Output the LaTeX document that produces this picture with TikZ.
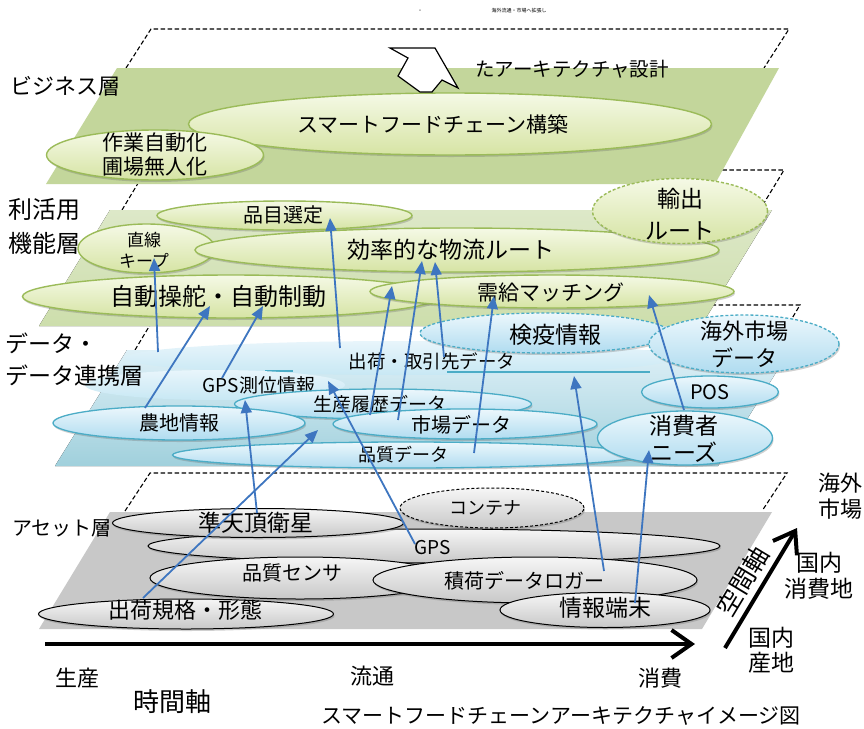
\documentclass[tikz,border=0pt]{standalone}
\usepackage{fontspec}
\setmainfont{Noto Sans CJK JP}
\usetikzlibrary{arrows.meta,shapes.geometric,shadows}
\definecolor{bizgreen}{RGB}{195,214,155}
\definecolor{bizline}{RGB}{155,187,89}
\definecolor{biztop}{RGB}{245,249,230}
\definecolor{bizbot}{RGB}{214,228,164}
\definecolor{usetop}{RGB}{221,232,200}
\definecolor{usebot}{RGB}{205,222,172}
\definecolor{datatop}{RGB}{222,240,247}
\definecolor{databot}{RGB}{160,208,220}
\definecolor{dline}{RGB}{75,172,198}
\definecolor{deltop}{RGB}{236,247,252}
\definecolor{delbot}{RGB}{176,220,240}
\definecolor{faintA}{RGB}{232,245,251}
\definecolor{faintB}{RGB}{200,232,244}
\definecolor{assetgray}{RGB}{200,200,200}
\definecolor{astop}{RGB}{246,246,246}
\definecolor{asbot}{RGB}{200,200,200}
\definecolor{arrowblue}{RGB}{62,118,192}
\newcommand{\myfs}[1]{\fontsize{#1}{#1}\selectfont}
\begin{document}
\begin{tikzpicture}[x=1pt,y=-1pt,
  dashedge/.style={black, line width=1.1pt, dash pattern=on 4.5pt off 2.5pt},
  shad/.style={drop shadow={opacity=0.3, shadow xshift=1pt, shadow yshift=-2pt, fill=black!60}},
  bizell/.style={ellipse, draw=bizline, line width=1.4pt, top color=biztop, bottom color=bizbot, inner sep=0pt, shad},
  dataell/.style={ellipse, draw=dline, line width=1.3pt, top color=deltop, bottom color=delbot, inner sep=0pt, shad},
  faintell/.style={ellipse, draw=none, top color=faintA, bottom color=faintB, inner sep=0pt},
  assetell/.style={ellipse, draw=black, line width=1pt, top color=astop, bottom color=asbot, inner sep=0pt, shad},
  dsh/.style={dash pattern=on 3pt off 2pt},
  sz/.style 2 args={minimum width=#1pt, minimum height=#2pt},
  txt/.style={inner sep=0pt, text=black},
  flow/.style={draw=arrowblue, line width=1.8pt, -{Triangle[length=13pt,width=11pt]}},
  axisarrow/.style={draw=black, line width=4pt, -{Straight Barb[length=20pt,width=28pt]}}
]
\useasboundingbox (0,0) rectangle (864,728);
\fill[white] (0,0) rectangle (864,728);

% tiny top texts
\node[txt, font=\myfs{5}] (dot) at (420,11) {・};
\node[txt, font=\myfs{5}] (toptext) at (519,11) {海外流通・市場へ拡張し};

% dashed layer outlines
\draw[dashedge] (126,68) -- (151,29) -- (789,29) -- (764,68);
\draw[dashedge] (122,210) -- (146,170) -- (784,170) -- (764,203);
\draw[dashedge] (135,350) -- (162,305) -- (800,305) -- (773,350);
\draw[dashedge] (125,511) -- (150,473) -- (787,473) -- (762,511);

% ===== business layer =====
\fill[bizgreen] (117,68) -- (779,68) -- (715,184) -- (46,184) -- cycle;
\node[bizell, sz={523}{62}] (smart) at (450,124) {};
\node[txt, font=\myfs{21}] (smart-t) at (433,124) {スマートフードチェーン構築};
\node[bizell, sz={217}{50}] (sagyo) at (155,155) {};
\node[txt, font=\fontsize{21}{24}\selectfont, align=center] (sagyo-t) at (155,155) {作業自動化\\圃場無人化};
\draw[black, line width=1.2pt, fill=white, line join=miter] (390,48) -- (435,48) -- (458,88) -- (442,80) -- (432,92) -- (420,92) -- (398,76) -- (408,58) -- cycle;
\node[txt, font=\myfs{19.5}] (arch) at (572,69) {たアーキテクチャ設計};
\node[txt, font=\myfs{22}, anchor=west] (biz-l) at (10,86) {ビジネス層};

% ===== use/function layer =====
\fill[top color=usetop, bottom color=usebot] (110,210) -- (772,210) -- (701,326) -- (39,326) -- cycle;
\node[bizell, sz={255}{29}] (hinmoku) at (284.5,215.5) {};
\node[txt, font=\myfs{20}] (hinmoku-t) at (283,215) {品目選定};
\node[bizell, sz={137}{49}] (chokusen) at (146.5,248.5) {};
\node[txt, font=\fontsize{17}{21}\selectfont, align=center] (chokusen-t) at (144,250) {直線\\キープ};
\node[bizell, sz={524}{44}] (koritsu) at (457,250) {};
\node[txt, font=\myfs{23}] (koritsu-t) at (451,250) {効率的な物流ルート};
\node[bizell, dsh, sz={175}{65}] (yushutsu) at (680,211) {};
\node[txt, font=\fontsize{23}{32}\selectfont, align=center] (yushutsu-t) at (680,214) {輸出\\ルート};
\node[bizell, sz={417}{43}] (jido) at (231,296.5) {};
\node[txt, font=\myfs{24}] (jido-t) at (218,296) {自動操舵・自動制動};
\node[bizell, sz={364}{33}] (jukyu) at (552,291.5) {};
\node[txt, font=\myfs{21}] (jukyu-t) at (551,293) {需給マッチング};
\node[txt, font=\fontsize{24}{34}\selectfont, align=left, anchor=west] (use-l) at (8,226) {利活用\\機能層};

% ===== data layer =====
\fill[top color=datatop, bottom color=databot] (127,350) -- (790,350) -- (718,466) -- (55,466) -- cycle;
\node[faintell, sz={550}{34}] (shukka) at (400,358) {};
\node[txt, font=\myfs{18.5}] (shukka-t) at (432,361) {出荷・取引先データ};
\draw[dline, line width=1.2pt] (447,372) -- (650,372);
\draw[dline, line width=1.2pt] (265,371) -- (293,371);
\node[faintell, sz={260}{30}] (gpsinfo) at (215,385) {};
\node[txt, font=\myfs{19}] (gpsinfo-t) at (259,385) {GPS測位情報};
\node[dataell, dsh, sz={250}{40}] (kenneki) at (545,333) {};
\node[txt, font=\myfs{23}] (kenneki-t) at (555,335) {検疫情報};
\node[dataell, dsh, sz={190}{58}] (kaigai) at (744,344) {};
\node[txt, font=\fontsize{22}{27}\selectfont, align=center] (kaigai-t) at (744,344) {海外市場\\データ};
\node[dataell, sz={297}{30}] (seisan) at (383,404) {};
\node[txt, font=\myfs{19}] (seisan-t) at (380,404) {生産履歴データ};
\node[dataell, sz={252}{34}] (nouchi) at (179,423) {};
\node[txt, font=\myfs{20}] (nouchi-t) at (179,423) {農地情報};
\node[dataell, sz={264}{30}] (shijo) at (465,424) {};
\node[txt, font=\myfs{20}] (shijo-t) at (461,425) {市場データ};
\node[dataell, sz={137}{32}] (pos) at (710,392) {};
\node[txt, font=\myfs{20}] (pos-t) at (710,392) {POS};
\node[dataell, sz={467}{26}] (hinshitsu) at (406,455) {};
\node[txt, font=\myfs{18}] (hinshitsu-t) at (403,455) {品質データ};
\node[dataell, sz={175}{54}] (shohisha) at (685,438) {};
\node[txt, font=\fontsize{23}{27}\selectfont, align=center] (shohisha-t) at (684,439) {消費者\\ニーズ};
\node[txt, font=\fontsize{23}{32}\selectfont, align=left, anchor=west] (data-l) at (5,360) {データ・\\データ連携層};

% ===== asset layer =====
\fill[assetgray] (110,512) -- (772,512) -- (702,629) -- (39,629) -- cycle;
\node[assetell, dsh, sz={184}{40}] (container) at (492,508) {};
\node[txt, font=\myfs{18}] (container-t) at (485,508) {コンテナ};
\node[assetell, sz={572}{34}] (gps) at (434,546) {};
\node[txt, font=\myfs{19}] (gps-t) at (433,548) {GPS};
\node[assetell, sz={291}{29}] (juntencho) at (258,523) {};
\node[txt, font=\myfs{23}] (juntencho-t) at (256,523) {準天頂衛星};
\node[assetell, sz={300}{42}] (sensor) at (300,578) {};
\node[txt, font=\myfs{20}] (sensor-t) at (292,573) {品質センサ};
\node[assetell, sz={324}{46}] (logger) at (535,580) {};
\node[txt, font=\myfs{20}] (logger-t) at (524,581) {積荷データロガー};
\node[assetell, sz={295}{30}] (kikaku) at (186,614) {};
\node[txt, font=\myfs{22}] (kikaku-t) at (185,610) {出荷規格・形態};
\node[assetell, sz={210}{35}] (tanmatsu) at (605,610) {};
\node[txt, font=\myfs{23}] (tanmatsu-t) at (605,608) {情報端末};
\node[txt, font=\myfs{20}, anchor=west] (asset-l) at (12,528) {アセット層};

% ===== blue connectors =====
\coordinate (a1s) at (158,352); \coordinate (a1e) at (154,258);
\coordinate (a2s) at (145,408); \coordinate (a2e) at (210,306);
\coordinate (a3s) at (222,378); \coordinate (a3e) at (263,306);
\coordinate (a4s) at (340,348); \coordinate (a4e) at (330,218);
\coordinate (a5s) at (370,415); \coordinate (a5e) at (392,286);
\coordinate (a6s) at (398,420); \coordinate (a6e) at (422,261);
\coordinate (a7s) at (444,357); \coordinate (a7e) at (435,262);
\coordinate (a8s) at (474,453); \coordinate (a8e) at (494,296);
\coordinate (a9s) at (684,410); \coordinate (a9e) at (649,295);
\coordinate (a10s) at (604,571); \coordinate (a10e) at (574,376);
\coordinate (a11s) at (635,603); \coordinate (a11e) at (649,450);
\coordinate (a12s) at (257,513); \coordinate (a12e) at (245,400);
\coordinate (a13s) at (143,598); \coordinate (a13e) at (318,430);
\coordinate (a14s) at (415,544); \coordinate (a14e) at (328,381);
\foreach \i in {1,...,14} { \draw[flow] (a\i s) -- (a\i e); }

% ===== axes =====
\coordinate (t0) at (45,644); \coordinate (t1) at (695,644);
\draw[axisarrow] (t0) -- (t1);
\coordinate (s0) at (725,648); \coordinate (s1) at (797,528);
\draw[axisarrow] (s0) -- (s1);
\node[txt, font=\myfs{25}, rotate=59] (kukan) at (743,581) {空間軸};

\node[txt, font=\myfs{22}] (seisan-ax) at (77,678) {生産};
\node[txt, font=\myfs{22}] (ryutsu-ax) at (372,676) {流通};
\node[txt, font=\myfs{22}] (shohi-ax) at (660,678) {消費};
\node[txt, font=\myfs{26}] (jikan) at (172,702) {時間軸};
\node[txt, font=\myfs{21}] (caption) at (561,716) {スマートフードチェーンアーキテクチャイメージ図};
\node[txt, font=\fontsize{23}{25}\selectfont, align=center] (sanchi) at (771,650) {国内\\産地};
\node[txt, font=\fontsize{23}{26}\selectfont, align=center] (shohichi) at (819,576) {国内\\消費地};
\node[txt, font=\fontsize{22}{26}\selectfont, align=center] (kaigaishijo) at (840,496) {海外\\市場};
\end{tikzpicture}
\end{document}
